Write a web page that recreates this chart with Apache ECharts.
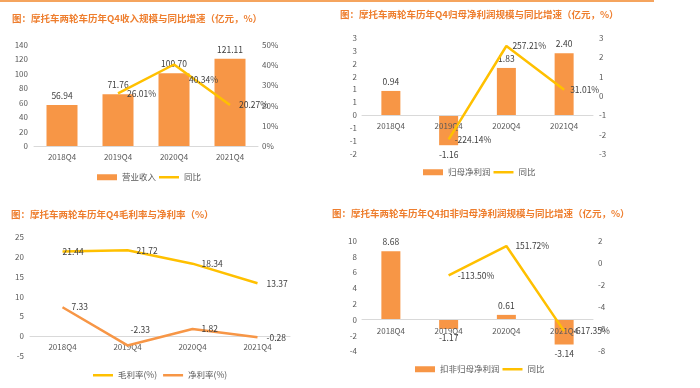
<!DOCTYPE html>
<html><head><meta charset="utf-8">
<script src="https://cdn.jsdelivr.net/npm/echarts@6/dist/echarts.min.js"></script>
<style>html,body{margin:0;padding:0;background:#fff}#c{width:700px;height:388px}</style>
</head><body><div id="c"></div>
<script>
// ---- data ----
var categories = ['2018Q4', '2019Q4', '2020Q4', '2021Q4'];
var revenue = [56.94, 71.76, 100.70, 121.11];            // 营业收入 (亿元)
var revenueYoY = [null, 26.01, 40.34, 20.27];             // 同比 (%)
var netProfit = [0.94, -1.16, 1.83, 2.40];                // 归母净利润 (亿元)
var netProfitYoY = [null, -224.14, 257.21, 31.01];        // 同比 (%)
var grossMargin = [21.44, 21.72, 18.34, 13.37];           // 毛利率(%)
var netMargin = [7.33, -2.33, 1.82, -0.28];               // 净利率(%)
var deductedProfit = [8.68, -1.17, 0.61, -3.14];          // 扣非归母净利润 (亿元)
var deductedYoY = [null, -113.50, 151.72, -617.35];       // 同比 (%)

var ORANGE = '#F79646', YELLOW = '#FFC000', TITLE = '#EE7E2E';
var AX = '#595959', LBL = '#404040', LINE = '#D9D9D9';
var FONT = '"Noto Sans CJK SC", "Liberation Sans", sans-serif';
var LINE_ICON = 'path://M0,0h20v2.5h-20z';

function barData(vals) {
  return vals.map(function (v) { return { value: v, label: { position: v < 0 ? 'bottom' : 'top' } }; });
}
function lineData(vals, tweaks) {
  return vals.map(function (v, i) {
    var o = { value: v };
    if (tweaks && tweaks[i]) o.label = tweaks[i];
    return o;
  });
}
function roundAway(v) { var s = v < 0 ? -1 : 1; return String(s * Math.round(Math.abs(v)) || 0); }

function xAx(grid, onZeroIdx, margin) {
  return {
    type: 'category', gridIndex: grid, data: categories, z: 5,
    axisLine: { onZero: true, onZeroAxisIndex: onZeroIdx, lineStyle: { color: LINE, width: 1 } },
    axisTick: { show: false },
    axisLabel: { color: AX, fontSize: 8, margin: margin, fontFamily: FONT }
  };
}
function yAx(grid, pos, min, max, interval, fmt, margin) {
  return {
    type: 'value', gridIndex: grid, position: pos, min: min, max: max, interval: interval,
    axisLine: { show: false }, axisTick: { show: false }, splitLine: { show: false },
    axisLabel: { color: AX, fontSize: 8, margin: margin, formatter: fmt, fontFamily: FONT }
  };
}
function legend(names, icons, left, top, gap) {
  return {
    data: names.map(function (n, i) { return { name: n, icon: icons[i] }; }),
    left: left, top: top, itemWidth: 20, itemHeight: 6, itemGap: gap, padding: 0,
    textStyle: { fontSize: 8.5, color: AX, fontFamily: FONT }
  };
}
var titleStyle = { color: TITLE, fontSize: 9.5, fontWeight: 'bold', fontFamily: FONT };
var labelBase = { show: true, fontSize: 8.5, color: LBL, fontFamily: FONT };
function lineSeries(name, x, y, color, dist, suffix, vals, tweaks) {
  return {
    name: name, type: 'line', xAxisIndex: x, yAxisIndex: y, symbol: 'circle', symbolSize: 0, showSymbol: true, z: 6,
    lineStyle: { color: color, width: 2.5 }, itemStyle: { color: color },
    label: Object.assign({}, labelBase, { position: 'right', distance: dist,
      formatter: function (p) { return p.value.toFixed(2) + suffix; } }),
    data: lineData(vals, tweaks)
  };
}
function barSeries(name, x, y, width, vals) {
  return {
    name: name, type: 'bar', xAxisIndex: x, yAxisIndex: y, barWidth: width, itemStyle: { color: ORANGE },
    label: Object.assign({}, labelBase, { distance: 5, formatter: function (p) { return p.value.toFixed(2); } }),
    data: barData(vals)
  };
}

var option = {
  animation: false,
  textStyle: { fontFamily: FONT },
  graphic: [{ type: 'rect', shape: { x: 0, y: 0, width: 654, height: 2 }, style: { fill: '#F5A45E' } }],
  title: [
    { text: '图：摩托车两轮车历年Q4收入规模与同比增速（亿元，%）', left: 12, top: 14, padding: 0, textStyle: titleStyle },
    { text: '图：摩托车两轮车历年Q4归母净利润规模与同比增速（亿元，%）', left: 340, top: 10, padding: 0, textStyle: titleStyle },
    { text: '图：摩托车两轮车历年Q4毛利率与净利率（%）', left: 11, top: 210, padding: 0, textStyle: titleStyle },
    { text: '图：摩托车两轮车历年Q4扣非归母净利润规模与同比增速（亿元，%）', left: 332, top: 209, padding: 0, textStyle: titleStyle }
  ],
  legend: [
    legend(['营业收入', '同比'], ['rect', LINE_ICON], 97, 173, 3),
    legend(['归母净利润', '同比'], ['rect', LINE_ICON], 423, 168, 3),
    legend(['毛利率(%)', '净利率(%)'], [LINE_ICON, LINE_ICON], 93, 371, 6),
    legend(['扣非归母净利润', '同比'], ['rect', LINE_ICON], 415, 365, 3)
  ],
  grid: [
    { left: 34, top: 45, width: 224, height: 101 },
    { left: 362, top: 37.7, width: 231, height: 116.3 },
    { left: 30, top: 237.3, width: 260, height: 118.7 },
    { left: 362, top: 240.7, width: 231, height: 110.6 }
  ],
  xAxis: [xAx(0, 0, 7), xAx(1, 2, -32), xAx(2, 4, -13), xAx(3, 5, -24.6)],
  yAxis: [
    yAx(0, 'left', 0, 140, 20, null, 6),
    yAx(0, 'right', 0, 50, 10, '{value}%', 4),
    yAx(1, 'left', -1.5, 3, 0.5, roundAway, 5),
    yAx(1, 'right', -300, 300, 100, function (v) { return String(v / 100); }, 6),
    yAx(2, 'left', -5, 25, 5, null, 6),
    yAx(3, 'left', -4, 10, 2, null, 5),
    yAx(3, 'right', -800, 200, 200, function (v) { return String(v / 100); }, 5)
  ],
  series: [
    barSeries('营业收入', 0, 0, 31, revenue),
    lineSeries('同比', 0, 1, YELLOW, 9, '%', revenueYoY, { 2: { offset: [6, 15] } }),
    barSeries('归母净利润', 1, 2, 19, netProfit),
    lineSeries('同比', 1, 3, YELLOW, 6, '%', netProfitYoY),
    lineSeries('毛利率(%)', 2, 4, YELLOW, 9, '', grossMargin, { 0: { distance: 0 } }),
    lineSeries('净利率(%)', 2, 4, ORANGE, 9, '', netMargin, { 1: { offset: [-6, -16] } }),
    barSeries('扣非归母净利润', 3, 5, 19, deductedProfit),
    lineSeries('同比', 3, 6, YELLOW, 9, '%', deductedYoY)
  ]
};
var chart = echarts.init(document.getElementById('c'), null, { renderer: 'canvas' });
chart.setOption(option);
</script></body></html>
